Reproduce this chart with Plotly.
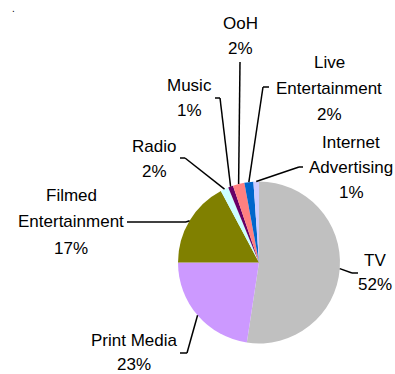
import math
import plotly.graph_objects as go

# Revenue share by media segment
segments = ["TV", "Print Media", "Filmed Entertainment", "Radio", "Music",
            "OoH", "Live Entertainment", "Internet Advertising"]
shares = [52.4, 22.6, 17.2, 1.6, 1.0, 2.3, 1.8, 1.1]
colors = ["#C0C0C0", "#CC99FF", "#808000", "#CCFFFF", "#660066",
          "#FF8080", "#0066CC", "#CCCCFF"]
# How each label is broken into lines
label_lines = [["TV"], ["Print Media"], ["Filmed", "Entertainment"], ["Radio"],
               ["Music"], ["OoH"], ["Live", "Entertainment"], ["Internet", "Advertising"]]

W, H = 395, 374
CX, CY, R = 259, 262.5, 81  # pie centre and radius in pixels

# Label layout: centre of first text line (px), line pitch, leader start, leader elbow
label_pos = [(375, 260, 24), (134, 340, 24), (71, 195, 26.5), (154, 146, 25),
             (189, 85, 25), (240, 23, 26), (329, 62, 26), (351, 142, 25.5)]
leader_start = [(358, 273), (180, 353), (127, 222), (180, 158),
                (215, 98), (240, 62), (269, 87), (303, 167)]
leader_elbow = [(352, 273), (187, 353), (186, 222), (185, 158),
                (220, 98), (240, 62), (263, 87), (299, 167)]

FONT = dict(family="Liberation Sans, Arial, sans-serif", size=17, color="black")


def px(x, y):
    return x / W, 1 - y / H


fig = go.Figure(go.Pie(
    labels=segments, values=shares, sort=False, direction="clockwise",
    rotation=0, textinfo="none", hoverinfo="label+percent",
    marker=dict(colors=colors, line=dict(width=0)),
    domain=dict(x=[(CX - R) / W, (CX + R) / W], y=[(H - CY - R) / H, (H - CY + R) / H]),
    showlegend=False,
))

total = sum(shares)
annotations, shapes = [], []
cum = 0.0
for i, v in enumerate(shares):
    mid = (cum + v / 2) / total * 2 * math.pi
    cum += v
    ex, ey = CX + R * math.sin(mid), CY - R * math.cos(mid)
    pts = [leader_start[i], leader_elbow[i], (ex, ey)]
    for (x0, y0), (x1, y1) in zip(pts[:-1], pts[1:]):
        if (x0, y0) == (x1, y1):
            continue
        a, b = px(x0, y0)
        c, d = px(x1, y1)
        shapes.append(dict(type="line", xref="paper", yref="paper",
                           x0=a, y0=b, x1=c, y1=d,
                           line=dict(color="black", width=1.5)))
    lx, ly, pitch = label_pos[i]
    lines = label_lines[i] + [f"{round(v / total * 100)}%"]
    for k, t in enumerate(lines):
        ax, ay = px(lx, ly + k * pitch)
        annotations.append(dict(text=t, x=ax, y=ay, xref="paper", yref="paper",
                                xanchor="center", yanchor="middle",
                                showarrow=False, font=FONT))

# small stray full stop in the top-left corner
annotations.append(dict(text=".", x=13 / W, y=1 - 0.5 / H, xref="paper", yref="paper",
                        xanchor="center", yanchor="top", showarrow=False,
                        font=dict(family="Liberation Sans", size=10, color="black")))

fig.update_layout(
    width=W, height=H, margin=dict(l=0, r=0, t=0, b=0),
    paper_bgcolor="white", plot_bgcolor="white",
    annotations=annotations, shapes=shapes,
)
fig.write_html("out.html")
